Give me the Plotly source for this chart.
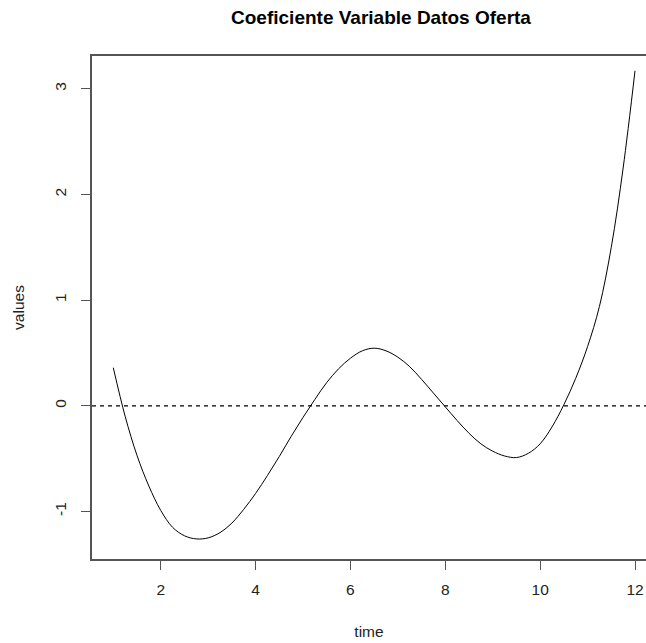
import plotly.graph_objects as go

# Coefficient curve sampled along the time axis
time = [1.0, 1.25, 1.5, 1.75, 2.0, 2.25, 2.5, 2.75, 3.0, 3.25, 3.5, 3.75,
        4.0, 4.25, 4.5, 4.75, 5.0, 5.25, 5.5, 5.75, 6.0, 6.25, 6.5, 6.75,
        7.0, 7.25, 7.5, 7.75, 8.0, 8.25, 8.5, 8.75, 9.0, 9.25, 9.5, 9.75,
        10.0, 10.25, 10.5, 10.75, 11.0, 11.25, 11.5, 11.75, 12.0]
values = [0.36, -0.10, -0.47, -0.76, -0.99, -1.15, -1.23, -1.26, -1.25, -1.20, -1.11, -0.98,
          -0.83, -0.66, -0.48, -0.29, -0.11, 0.06, 0.22, 0.35, 0.45, 0.52, 0.545, 0.52,
          0.46, 0.37, 0.25, 0.12, -0.01, -0.14, -0.26, -0.36, -0.43, -0.475, -0.49, -0.45,
          -0.36, -0.20, 0.01, 0.26, 0.56, 0.94, 1.50, 2.25, 3.17]

x_ticks = [2, 4, 6, 8, 10, 12]
y_ticks = [-1, 0, 1, 2, 3]

font_family = "Liberation Sans, Arial, sans-serif"
axis_color = "#555555"
label_size = 15.5

fig = go.Figure()
fig.add_trace(go.Scatter(
    x=time, y=values, mode="lines",
    line=dict(color="black", width=1, shape="spline", smoothing=1.0),
    showlegend=False, hoverinfo="skip",
))

# horizontal reference line at zero
fig.add_shape(type="line", xref="paper", yref="y", x0=0, x1=1, y0=0, y1=0,
              line=dict(color="black", width=1.2, dash="4px,4px"))

fig.update_layout(
    width=646, height=643,
    margin=dict(l=92, r=0, t=56, b=84),
    paper_bgcolor="white", plot_bgcolor="white",
    font=dict(family=font_family, size=label_size, color="#222222"),
    title=dict(text="<b>Coeficiente Variable Datos Oferta</b>",
               x=381 / 646, xref="container", xanchor="center",
               y=1 - 17 / 643, yref="container", yanchor="middle",
               font=dict(size=19, color="black", family=font_family)),
)

fig.update_xaxes(
    range=[0.551, 12.232], tickvals=x_ticks, ticktext=[str(v) for v in x_ticks],
    showgrid=False, zeroline=False,
    showline=True, linecolor=axis_color, linewidth=1.5, mirror=True,
    ticks="outside", ticklen=9, tickcolor=axis_color, tickwidth=1,
    ticklabelstandoff=7, tickfont=dict(size=label_size),
    title=dict(text="time", standoff=29, font=dict(size=label_size)),
)
fig.update_yaxes(
    range=[-1.45, 3.31], tickvals=y_ticks, ticktext=[str(v) for v in y_ticks],
    showgrid=False, zeroline=False,
    showline=True, linecolor=axis_color, linewidth=1.5, mirror=False,
    ticks="outside", ticklen=9, tickcolor=axis_color, tickwidth=1,
    tickangle=-90, ticklabelstandoff=9, tickfont=dict(size=label_size),
    title=dict(text="values", standoff=24, font=dict(size=label_size)),
)

fig.write_html("out.html")
